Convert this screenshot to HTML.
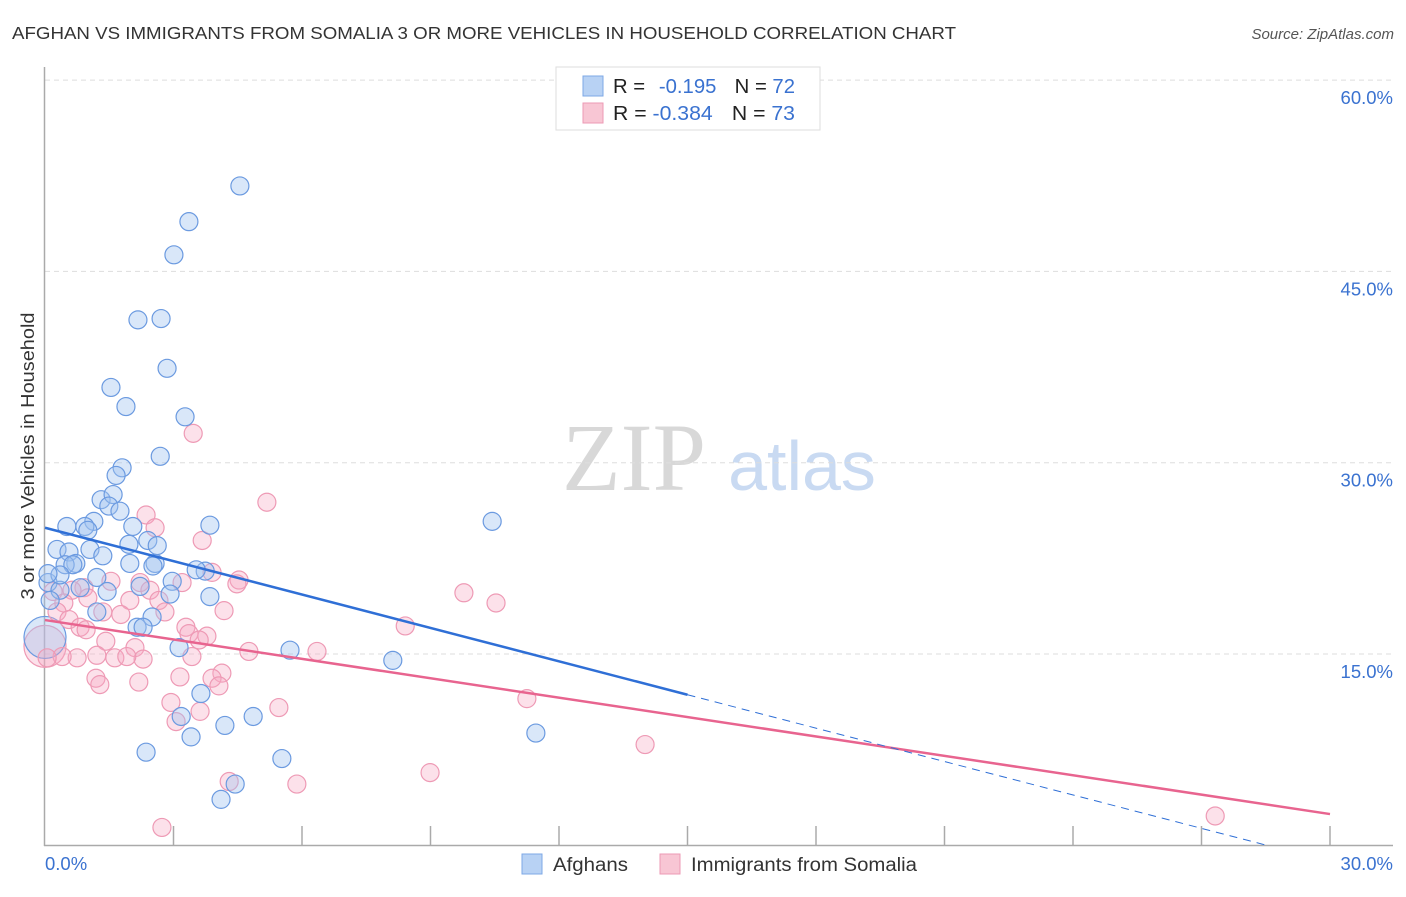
<!DOCTYPE html>
<html><head><meta charset="utf-8"><style>
body{margin:0;background:#fff;font-family:"Liberation Sans",sans-serif;}
</style></head><body>
<svg id="chart" width="1406" height="892" xmlns="http://www.w3.org/2000/svg" font-family="Liberation Sans, sans-serif">
<text x="12" y="39" font-size="17.5" fill="#333" textLength="944" lengthAdjust="spacingAndGlyphs">AFGHAN VS IMMIGRANTS FROM SOMALIA 3 OR MORE VEHICLES IN HOUSEHOLD CORRELATION CHART</text>
<text x="1394" y="39" font-size="15" fill="#555" font-style="italic" text-anchor="end">Source: ZipAtlas.com</text>
<text transform="translate(34,456) rotate(-90)" font-size="18" fill="#333" text-anchor="middle" textLength="287" lengthAdjust="spacingAndGlyphs">3 or more Vehicles in Household</text>
<g>
<text x="634" y="490" font-family="Liberation Serif, serif" font-size="96" fill="#d8d8d8" text-anchor="middle">ZIP</text>
<text x="802" y="490" font-size="70" fill="#c9daf2" text-anchor="middle">atlas</text>
</g>
<g id="grid"></g><g id="axes"></g><g id="pts"></g><g id="lines"></g>
<g>
<rect x="556" y="67" width="264" height="63" fill="#fff" stroke="#ddd"/>
<rect x="583" y="76" width="20" height="20" fill="#b8d2f4" stroke="#7ea8e6"/>
<rect x="583" y="103" width="20" height="20" fill="#f8c6d4" stroke="#ec9ab4"/>
<text x="613" y="93" font-size="20" fill="#222" textLength="182" lengthAdjust="spacingAndGlyphs">R = <tspan fill="#3a72d0" dx="8">-0.195</tspan><tspan dx="18">N = </tspan><tspan fill="#3a72d0">72</tspan></text>
<text x="613" y="120" font-size="20" fill="#222" textLength="182" lengthAdjust="spacingAndGlyphs">R = <tspan fill="#3a72d0">-0.384</tspan><tspan dx="18">N = </tspan><tspan fill="#3a72d0">73</tspan></text>
</g>
<g>
<rect x="522" y="854" width="20" height="20" fill="#b8d2f4" stroke="#7ea8e6"/>
<text x="553" y="871" font-size="19" fill="#333" textLength="75" lengthAdjust="spacingAndGlyphs">Afghans</text>
<rect x="660" y="854" width="20" height="20" fill="#f8c6d4" stroke="#ec9ab4"/>
<text x="691" y="871" font-size="19" fill="#333" textLength="226" lengthAdjust="spacingAndGlyphs">Immigrants from Somalia</text>
</g>
</svg>
<script>
const blueX=[4.55,3.36,3.01,2.17,2.71,2.85,1.54,1.89,3.27,2.69,1.80,1.66,1.31,1.59,1.49,1.75,1.14,0.51,0.93,2.05,3.85,1.00,10.44,1.96,2.40,2.62,1.05,0.28,0.56,1.35,0.72,0.47,0.65,1.98,2.57,2.52,3.74,3.53,2.97,1.21,0.07,2.22,0.82,1.45,0.35,2.92,3.85,1.21,2.50,2.15,2.29,3.13,5.72,8.12,3.64,3.18,4.86,4.20,3.41,11.46,2.36,5.53,4.44,4.11,0.12,0.35,0.07];
const blueY=[51.7,48.9,46.3,41.2,41.3,37.4,35.9,34.4,33.6,30.5,29.6,29.0,27.1,27.5,26.6,26.2,25.4,25.0,25.0,25.0,25.1,24.7,25.4,23.6,23.9,23.5,23.2,23.2,23.0,22.7,22.1,22.0,22.0,22.1,22.1,21.9,21.5,21.6,20.7,21.0,20.6,20.3,20.2,19.9,20.0,19.7,19.5,18.3,17.9,17.1,17.1,15.5,15.3,14.5,11.9,10.1,10.1,9.4,8.5,8.8,7.3,6.8,4.8,3.6,19.2,21.2,21.3];
const pinkX=[3.46,5.18,2.36,2.57,3.67,4.53,4.48,3.90,2.22,1.54,2.45,0.91,0.19,0.63,1.00,0.44,2.66,3.20,1.98,0.28,1.35,1.77,0.56,0.82,0.96,2.80,4.18,8.41,3.29,3.36,3.78,3.60,1.42,2.10,4.76,6.35,1.63,2.29,1.21,0.75,0.40,0.05,3.43,1.91,4.13,1.19,1.28,2.19,3.90,3.15,4.06,9.78,10.53,11.25,5.46,2.94,3.62,3.06,14.01,8.99,4.30,5.88,2.73,27.32];
const pinkY=[32.3,26.9,25.9,24.9,23.9,20.8,20.5,21.4,20.6,20.7,20.0,20.2,19.9,20.0,19.4,19.0,19.2,20.6,19.2,18.3,18.3,18.1,17.7,17.1,16.9,18.3,18.4,17.2,17.1,16.6,16.4,16.1,16.0,15.5,15.2,15.2,14.7,14.6,14.9,14.7,14.8,14.7,14.8,14.8,13.5,13.1,12.6,12.8,13.1,13.2,12.5,19.8,19.0,11.5,10.8,11.2,10.5,9.7,7.9,5.7,5.0,4.8,1.4,2.3];
const bigPts=[[0,15.6,'pink'],[0,16.3,'blue']];
const yTicks=[15,30,45,60];
const xTickLabels=['0.0%','30.0%'];
const blueTrend=[24.9,-0.873]; // intercept, slope
const pinkTrend=[17.66,-0.507];
const blueSolidEnd=15;

const X=v=>45+v/30*1285;
const Y=v=>845.3-v/15*191.3;
const NS='http://www.w3.org/2000/svg';
function mk(tag,attrs,parent){const e=document.createElementNS(NS,tag);for(const k in attrs)e.setAttribute(k,attrs[k]);document.getElementById(parent).appendChild(e);return e;}

yTicks.forEach(t=>{
  const l=mk('line',{x1:45,x2:1393,y1:Y(t),y2:Y(t),stroke:'#ddd','stroke-dasharray':'5,4'},'grid');
  
  
  const tx=mk('text',{x:1393,y:Y(t)+24,'font-size':18.5,fill:'#3a72d0','text-anchor':'end'},'grid');
  tx.textContent=t.toFixed(1)+'%';
  
  
});
const ax=mk('line',{x1:44.5,x2:44.5,y1:67,y2:846,stroke:'#aaa','stroke-width':1.5},'axes');


const bx=mk('line',{x1:44,x2:1393,y1:845.5,y2:845.5,stroke:'#aaa','stroke-width':1.5},'axes');


for(let i=1;i<=10;i++){
  const t=mk('line',{x1:X(i*3),x2:X(i*3),y1:826,y2:845,stroke:'#aaa','stroke-width':1.5},'axes');
  
  
}
[[0,'start',45],[30,'end',1393]].forEach((d,i)=>{
  const t=mk('text',{x:d[2],y:870,'font-size':18.5,fill:'#3a72d0','text-anchor':d[1]},'axes');
  t.textContent=xTickLabels[i];
  
  
});
function dot(x,y,c,r){
  const fill=c==='blue'?'rgba(160,195,240,0.4)':'rgba(246,170,195,0.35)';
  const st=c==='blue'?'#6b9ae0':'#ee9ab5';
  const e=mk('circle',{cx:X(x),cy:Y(y),r:r,fill:fill,stroke:st,'stroke-width':1.2},'pts');
  
  
}
bigPts.forEach(p=>dot(p[0],p[1],p[2],21));
pinkX.forEach((x,i)=>dot(x,pinkY[i],'pink',9));
blueX.forEach((x,i)=>dot(x,blueY[i],'blue',9));

const pl=mk('line',{x1:X(0),y1:Y(pinkTrend[0]),x2:X(30),y2:Y(pinkTrend[0]+30*pinkTrend[1]),stroke:'#e8648f','stroke-width':2.5},'lines');


const bl=mk('line',{x1:X(0),y1:Y(blueTrend[0]),x2:X(blueSolidEnd),y2:Y(blueTrend[0]+blueSolidEnd*blueTrend[1]),stroke:'#2f6fd6','stroke-width':2.5},'lines');


const xEnd=-blueTrend[0]/blueTrend[1];
const bd=mk('line',{x1:X(blueSolidEnd),y1:Y(blueTrend[0]+blueSolidEnd*blueTrend[1]),x2:X(xEnd),y2:Y(0),stroke:'#2f6fd6','stroke-width':1,'stroke-dasharray':'8,6'},'lines');


</script>
</body></html>
